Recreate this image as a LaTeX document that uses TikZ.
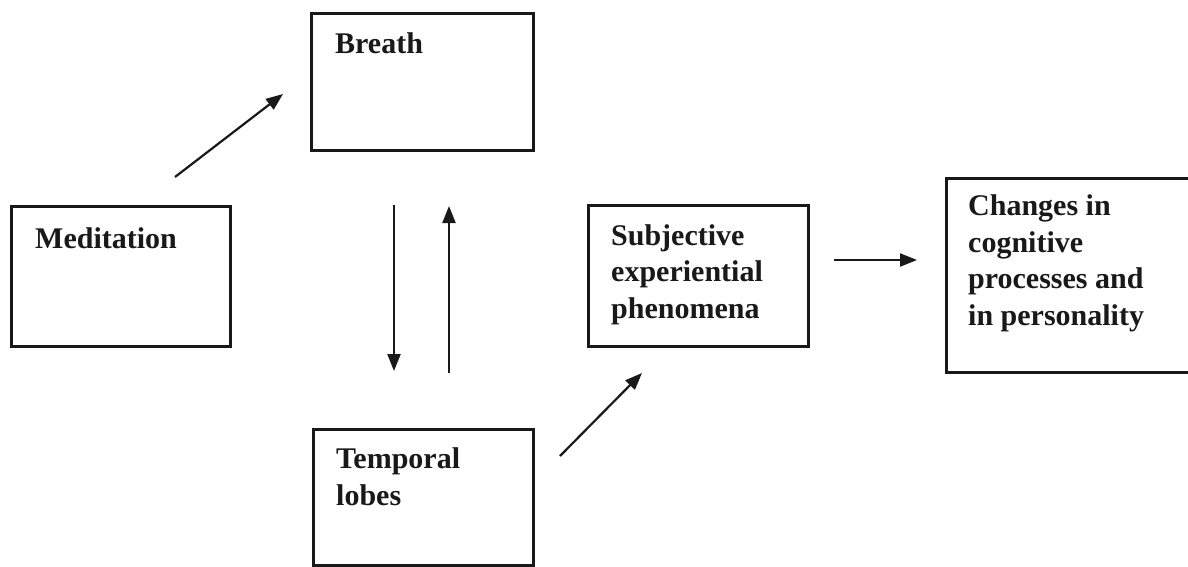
\documentclass[tikz,border=0pt]{standalone}
\usepackage{fontspec}
\setmainfont{Liberation Serif}
\usetikzlibrary{arrows.meta}
\tikzset{
  box/.style={draw=black!90, line width=2.5pt, fill=none, inner sep=0pt, anchor=north west},
  lbl/.style={font=\bfseries\fontsize{30}{36.5}\selectfont, align=left, inner sep=0pt, anchor=base west, text=black!90},
  conn/.style={draw=black!90, line width=2.2pt, -{Triangle[length=17pt,width=13pt]}},
}
\begin{document}
\begin{tikzpicture}[x=1pt,y=-1pt]
\useasboundingbox (0,0) rectangle (1188,566);
\fill[white] (0,0) rectangle (1188,566);
\begin{scope}
\clip (0,0) rectangle (1188,566);
% boxes
\node[box, minimum width=219pt, minimum height=140pt] (med) at (10,205) {};
\node[box, minimum width=222pt, minimum height=137pt] (breath) at (310,12) {};
\node[box, minimum width=220pt, minimum height=136pt] (temp) at (312,428) {};
\node[box, minimum width=220pt, minimum height=141pt] (subj) at (587,204) {};
\node[box, minimum width=260pt, minimum height=194pt] (chg) at (945,177) {};
\end{scope}
% texts (anchored at the baseline of the last line)
\node[lbl] (medt) at (35,248) {Meditation};
\node[lbl] (breatht) at (335,53) {Breath};
\node[lbl] (tempt) at (336,505) {Temporal\\lobes};
\node[lbl] (subjt) at (611,318) {Subjective\\experiential\\phenomena};
\node[lbl] (chgt) at (968,325) {Changes in\\cognitive\\processes and\\in personality};
% connector end points
\coordinate (a1) at (175,177);
\coordinate (a2) at (283,94);
\coordinate (b1) at (394,205);
\coordinate (b2) at (394,371);
\coordinate (c1) at (449,373);
\coordinate (c2) at (449,206);
\coordinate (d1) at (560,456);
\coordinate (d2) at (642,373);
\coordinate (e1) at (834,260);
\coordinate (e2) at (917,260);
\draw[conn] (a1) -- (a2);
\draw[conn] (b1) -- (b2);
\draw[conn] (c1) -- (c2);
\draw[conn] (d1) -- (d2);
\draw[conn] (e1) -- (e2);
\end{tikzpicture}
\end{document}
